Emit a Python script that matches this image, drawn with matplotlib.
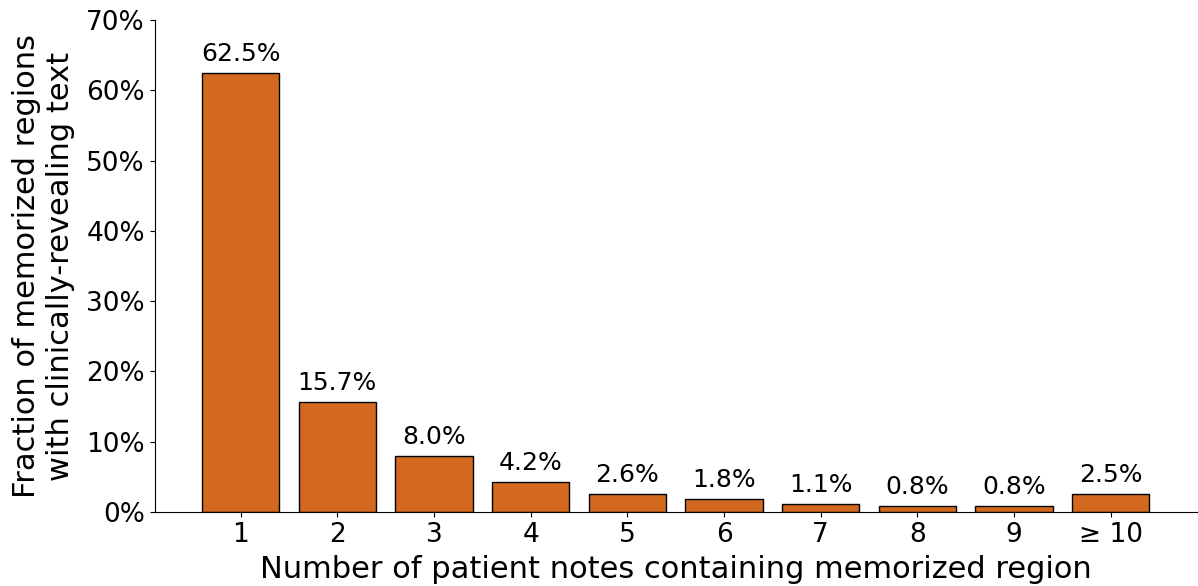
import matplotlib.pyplot as plt

categories = ['1', '2', '3', '4', '5', '6', '7', '8', '9', '≥ 10']
fractions = [62.5, 15.7, 8.0, 4.2, 2.6, 1.8, 1.1, 0.8, 0.8, 2.5]
yticks = [0, 10, 20, 30, 40, 50, 60, 70]

fig = plt.figure(figsize=(11.98, 5.86), dpi=100)
ax = fig.add_axes([0.129, 0.1263, 0.87, 0.8397])

positions = list(range(1, len(categories) + 1))
bars = ax.bar(positions, fractions, width=0.8, color='#D2691E',
              edgecolor='black', linewidth=1)

for pos, val in zip(positions, fractions):
    ax.text(pos, val + 1.0, f"{val:.1f}%", ha='center', va='bottom',
            fontsize=18)

ax.set_xticks(positions)
ax.set_xticklabels(categories, fontsize=19)
ax.set_yticks(yticks)
ax.set_yticklabels([f"{t}%" for t in yticks], fontsize=19)
ax.set_ylim(0, 70)

ax.set_xlabel("Number of patient notes containing memorized region",
              fontsize=22, labelpad=5)
ax.set_ylabel("Fraction of memorized regions\nwith clinically-revealing text",
              fontsize=22, labelpad=8)

ax.spines['top'].set_visible(False)
ax.spines['right'].set_visible(False)

fig.savefig("out.png", dpi=100)
